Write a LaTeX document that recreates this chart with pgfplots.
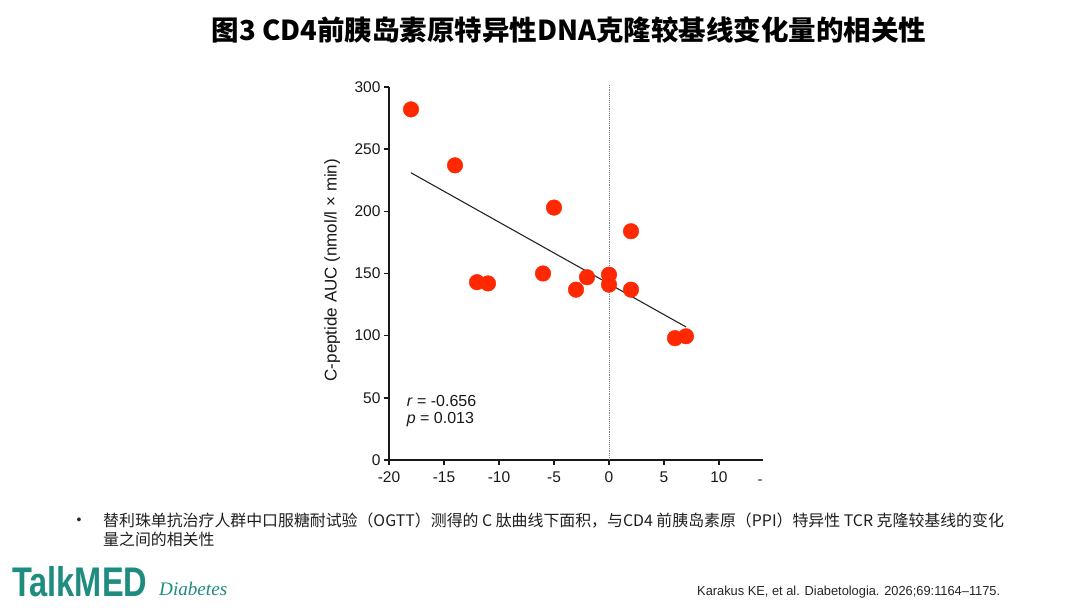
\documentclass[border=0pt]{standalone}
\usepackage{pgfplots}
\pgfplotsset{compat=1.18}
\usepackage{fontspec}
\setmainfont{Liberation Sans}
\newfontfamily\cjk{Noto Sans CJK SC}
\newfontfamily\serifit{Liberation Serif}
\definecolor{dotred}{RGB}{255,40,0}
\definecolor{tealm}{RGB}{31,140,128}
\begin{document}
\begin{tikzpicture}[x=1pt,y=1pt]
\fill[white] (0,0) rectangle (1080,608);
\useasboundingbox (0,0) rectangle (1080,608);
\node[font=\cjk\bfseries\fontsize{27.5}{32}\selectfont, anchor=center, inner sep=0] at (569,578) {图3 CD4前胰岛素原特异性DNA克隆较基线变化量的相关性};
\begin{axis}[
  at={(389pt,148pt)}, anchor=south west, scale only axis,
  width=374pt, height=373pt,
  xmin=-20, xmax=14, ymin=0, ymax=300,
  axis x line=bottom, axis y line=left,
  axis line style={-, line width=1.4pt, black!90},
  xtick={-20,-15,-10,-5,0,5,10}, ytick={0,50,100,150,200,250,300},
  tick align=outside, major tick length=5pt,
  tick style={line width=1.4pt, black!90},
  ticklabel style={font=\fontsize{15.5}{18}\selectfont, text=black!90},
  xticklabel style={yshift=-3pt},
  /pgf/number format/assume math mode=true,
  clip=false,
  ylabel={C-peptide AUC (nmol/l × min)},
  ylabel style={font=\fontsize{17}{20}\selectfont, text=black!90, at={(axis description cs:-0.152,0.509)}, anchor=center},
]
\addplot[gray, densely dotted, line width=0.9pt] coordinates {(0,0) (0,302)};
\addplot[black!85, line width=1.1pt] coordinates {(-18,231) (7,107)};
\addplot[only marks, mark=*, mark size=7.8pt, color=dotred, mark options={draw=dotred, fill=dotred}] coordinates {
(-18,282) (-14,237) (-12,143) (-11,142) (-6,150) (-5,203) (-3,137) (-2,147)
(0,149) (0,141) (2,184) (2,137) (6,98) (7,99.5)
};
\node[anchor=base west, inner sep=0, font=\fontsize{16}{19}\selectfont, text=black!90] at (axis cs:-18.4,43.4) {\textit{r} = -0.656};
\node[anchor=base west, inner sep=0, font=\fontsize{16}{19}\selectfont, text=black!90] at (axis cs:-18.4,29.5) {\textit{p} = 0.013};
\end{axis}
\node[font=\fontsize{15}{18}\selectfont, text=black!85] at (760,126) {-};
\node[font=\fontsize{14}{17}\selectfont, text=black!85] at (79,87) {•};
\node[anchor=base west, inner sep=0, font=\cjk\fontsize{15.9}{19}\selectfont, text=black!88] at (103,81) {替利珠单抗治疗人群中口服糖耐试验（OGTT）测得的 C 肽曲线下面积，与CD4 前胰岛素原（PPI）特异性 TCR 克隆较基线的变化};
\node[anchor=base west, inner sep=0, font=\cjk\fontsize{15.9}{19}\selectfont, text=black!88] at (103,62) {量之间的相关性};
\node[anchor=base west, inner sep=0, text=black!85] at (697,12.5) {\resizebox{303pt}{9.5pt}{Karakus KE, et al. Diabetologia. 2026;69:1164–1175.}};
\node[anchor=base west, inner sep=0, text=tealm] at (12,12) {\resizebox{135pt}{30pt}{\bfseries TalkMED}};
\node[anchor=base west, inner sep=0, text=tealm] at (159,12.5) {\resizebox{68pt}{!}{\serifit\itshape Diabetes}};
\end{tikzpicture}
\end{document}
